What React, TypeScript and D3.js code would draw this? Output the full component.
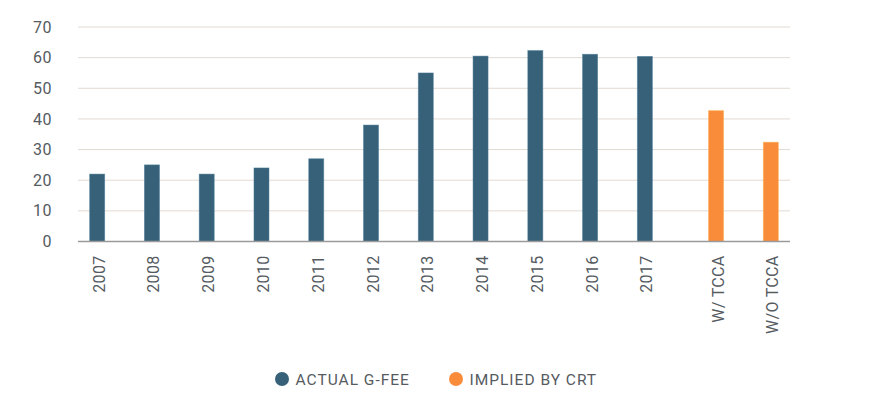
import React, { useEffect, useRef } from "react";
import * as d3 from "d3";

const categories = ["2007", "2008", "2009", "2010", "2011", "2012", "2013", "2014", "2015", "2016", "2017", "W/ TCCA", "W/O TCCA"];
// slot positions: years evenly spaced, the two CRT bars set apart a little
const slots = [0, 1, 2, 3, 4, 5, 6, 7, 8, 9, 10, 11.3, 12.3];
const values = [22, 25, 22, 24, 27, 38, 55, 60.5, 62.3, 61.1, 60.4, 42.7, 32.4];
const series = ["actual", "actual", "actual", "actual", "actual", "actual", "actual", "actual", "actual", "actual", "actual", "crt", "crt"];
const yTicks = [0, 10, 20, 30, 40, 50, 60, 70];
const legendItems = [
	{ key: "actual", label: "ACTUAL G-FEE" },
	{ key: "crt", label: "IMPLIED BY CRT" },
];

const colors = { actual: "#376179", crt: "#f98c3a" };

const App = () => {
	const svgRef = useRef(null);

	useEffect(() => {
		const svg = d3.select(svgRef.current);
		svg.selectAll("*").remove();

		const font = "Roboto, 'DejaVu Sans', sans-serif";
		const left = 78;
		const right = 790;
		const top = 27;
		const bottom = 241.5;

		const x = d3.scaleLinear().domain([-0.35, 12.65]).range([left, right]);
		const y = d3.scaleLinear().domain([0, 70]).range([bottom, top]);
		const barW = 15;

		// grid lines
		svg
			.append("g")
			.selectAll("line")
			.data(yTicks.filter((d) => d > 0))
			.enter()
			.append("line")
			.attr("x1", left)
			.attr("x2", right)
			.attr("y1", (d) => y(d))
			.attr("y2", (d) => y(d))
			.attr("stroke", "#e2dad3")
			.attr("stroke-width", 1);

		// y labels
		svg
			.append("g")
			.selectAll("text")
			.data(yTicks)
			.enter()
			.append("text")
			.attr("x", 52)
			.attr("y", (d) => y(d))
			.attr("dy", "0.35em")
			.attr("text-anchor", "end")
			.attr("font-family", font)
			.attr("font-size", 16)
			.attr("letter-spacing", 0.5)
			.attr("fill", "#555b61")
			.text((d) => d);

		// bars
		svg
			.append("g")
			.selectAll("rect")
			.data(values)
			.enter()
			.append("rect")
			.attr("x", (d, i) => x(slots[i]) - barW / 2)
			.attr("y", (d) => y(d))
			.attr("width", barW)
			.attr("height", (d) => y(0) - y(d))
			.attr("fill", (d, i) => colors[series[i]])
			.attr("stroke", (d, i) => d3.color(colors[series[i]]).brighter(0.6).toString())
			.attr("stroke-opacity", 0.6)
			.attr("stroke-width", 0.8);

		// baseline
		svg
			.append("line")
			.attr("x1", left)
			.attr("x2", right)
			.attr("y1", bottom)
			.attr("y2", bottom)
			.attr("stroke", "#9a9a9a")
			.attr("stroke-width", 1.5);

		// x labels, rotated
		svg
			.append("g")
			.selectAll("text")
			.data(categories)
			.enter()
			.append("text")
			.attr("transform", (d, i) => `translate(${x(slots[i]) + 7.5},${bottom + 14}) rotate(-90)`)
			.attr("text-anchor", "end")
			.attr("font-family", font)
			.attr("font-size", 16)
			.attr("letter-spacing", 0.3)
			.attr("fill", "#555b61")
			.text((d) => d);

		// legend
		const legend = svg.append("g").attr("transform", "translate(282,379)");
		const lx = d3.scalePoint().domain(legendItems.map((d) => d.key)).range([0, 174]);
		const item = legend
			.selectAll("g")
			.data(legendItems)
			.enter()
			.append("g")
			.attr("transform", (d) => `translate(${lx(d.key)},0)`);
		item.append("circle").attr("r", 7).attr("fill", (d) => colors[d.key]);
		item
			.append("text")
			.attr("x", 13.5)
			.attr("dy", "0.36em")
			.attr("font-family", font)
			.attr("font-size", 15.5)
			.attr("letter-spacing", 1)
			.attr("fill", "#555b61")
			.text((d) => d.label);
	}, []);

	return (
		<div style={{ margin: -8 }}>
			<svg ref={svgRef} width={871} height={399}></svg>
		</div>
	);
};

export default App;
